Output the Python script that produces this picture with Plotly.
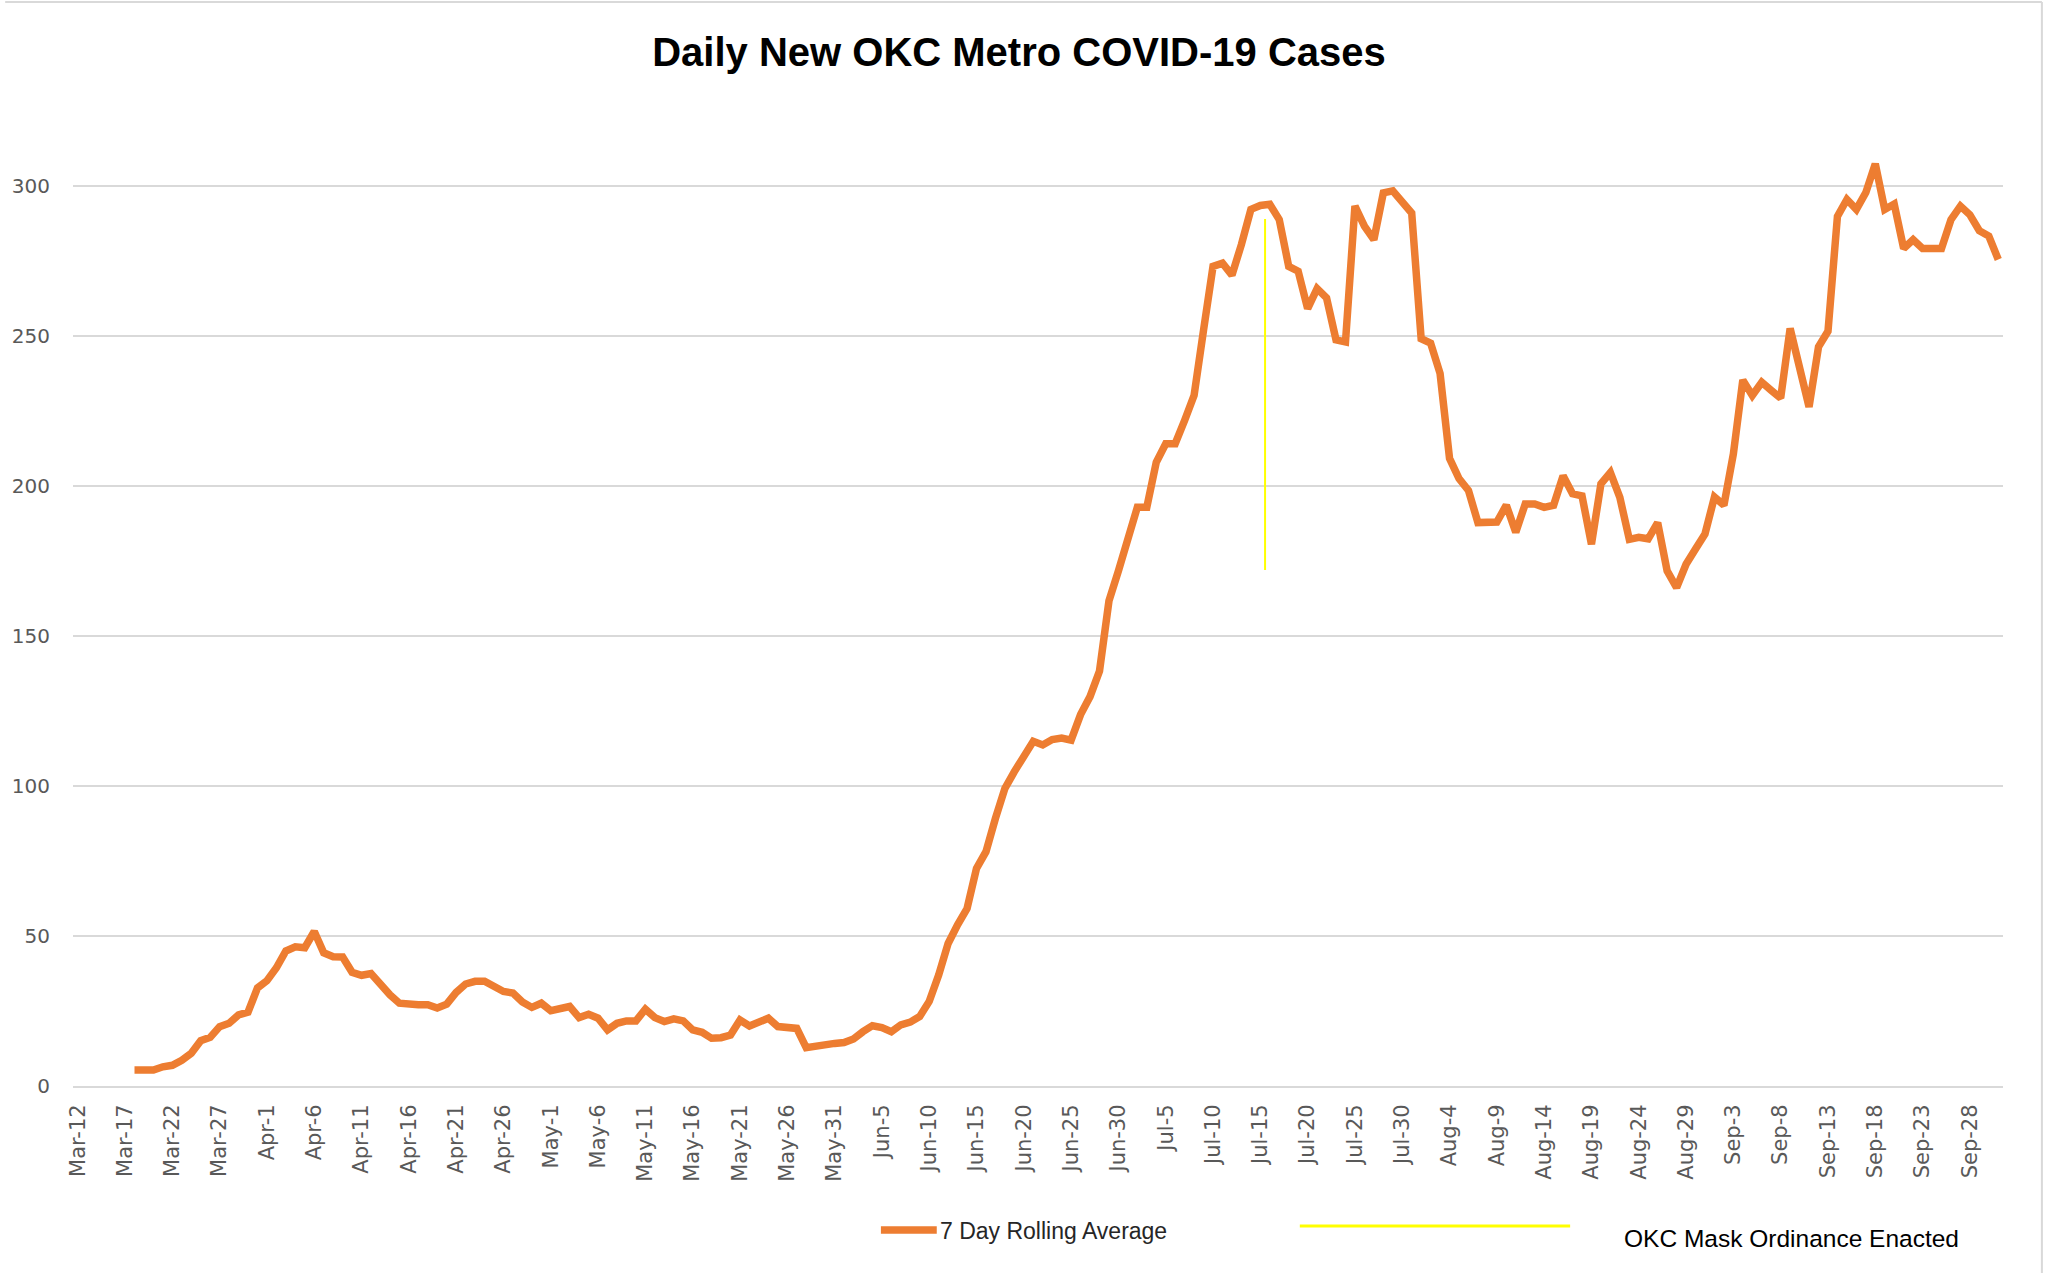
import pandas as pd
import plotly.graph_objects as go

# ---------------- data ----------------
dates = pd.date_range("2020-03-18", "2020-10-01", freq="D")

mar = [5.3, 5.3, 5.3, 6.4, 6.9, 8.6, 10.9, 15.1, 16.2, 19.8, 20.9, 23.7, 24.6, 32.7]
apr = [35.1, 39.4, 45.0, 46.4, 46.1, 51.5, 44.4, 43.1, 43.0, 37.9, 36.9, 37.5, 33.8, 30.4, 27.6,
       27.1, 27.1, 27.1, 26.0, 27.3, 31.2, 34.0, 34.9, 34.9, 33.2, 31.5, 31.0, 28.0, 26.2, 27.6]
may = [25.1, 26.0, 26.5, 22.8, 23.9, 22.6, 18.7, 20.9, 21.7, 21.7, 25.6, 22.8, 21.5, 22.4, 21.7,
       18.7, 17.9, 15.9, 16.1, 17.0, 22.0, 20.0, 21.5, 22.6, 19.8, 19.8, 19.2, 12.8, 13.4, 14.2, 14.2]
jun = [14.5, 15.7, 18.1, 20.1, 19.5, 18.1, 20.4, 21.3, 23.2, 28.2, 37.0, 47.5, 53.7, 59.1, 72.5,
       78.1, 89.2, 99.2, 104.8, 109.7, 114.9, 113.7, 115.5, 116.0, 115.3, 123.8, 129.8, 138.3, 161.7, 171.7]
jul = [181.8, 192.9, 192.9, 207.9, 214.1, 214.1, 221.9, 230.2, 252.0, 273.2, 274.3, 270.3, 280.5,
       292.2, 293.5, 293.9, 288.8, 273.2, 271.6, 259.1, 265.8, 262.7, 248.7, 248.0, 293.3, 286.6,
       282.1, 297.7, 298.4, 294.4, 291.0]
aug = [249.1, 247.6, 237.5, 209.2, 202.5, 198.5, 187.8, 188.0, 188.0, 193.6, 184.6, 194.0, 194.0,
       192.9, 193.6, 203.4, 197.4, 196.7, 180.6, 200.7, 204.5, 196.2, 182.2, 182.9, 182.4, 187.8,
       171.7, 166.1, 173.9, 179.0, 184.0]
sep = [196.3, 193.6, 210.7, 235.3, 230.2, 234.6, 231.9, 229.3, 252.5, 239.7, 226.4, 246.4, 251.6,
       289.9, 295.5, 292.2, 297.8, 307.4, 292.2, 294.0, 279.2, 282.1, 279.2, 279.2, 279.2, 288.8,
       293.3, 290.4, 285.1, 283.3]
octo = [275.5]
rolling_avg = mar + apr + may + jun + jul + aug + sep + octo

mask_x = ["2020-07-15 12:00", "2020-07-15 12:00"]
mask_y = [172, 289]

y_ticks = [0, 50, 100, 150, 200, 250, 300]

title_text = "Daily New OKC Metro COVID-19 Cases"
series_name = "7 Day Rolling Average"
mask_name = "OKC Mask Ordinance Enacted"

ORANGE = "#ED7D31"
YELLOW = "#FFFF00"

# ---------------- layout geometry ----------------
W, H = 2045, 1273
ML, MR, MT, MB = 68, 42, 96, 187
PW, PH = W - ML - MR, H - MT - MB


def px(x):
    return (x - ML) / PW


def py(y):
    return (H - MB - y) / PH


fig = go.Figure()
fig.add_trace(go.Scatter(
    x=dates, y=rolling_avg, mode="lines", name=series_name,
    line=dict(color=ORANGE, width=7.5), showlegend=False,
))
fig.add_trace(go.Scatter(
    x=mask_x, y=mask_y, mode="lines", name=mask_name,
    line=dict(color=YELLOW, width=2), showlegend=False,
))

x_tick_font = dict(family="DejaVu Sans, Verdana, sans-serif", size=21, color="#595959")
y_tick_font = dict(family="DejaVu Sans, Verdana, sans-serif", size=20, color="#595959")
legend_font = "Liberation Sans, Arial, sans-serif"

fig.update_layout(
    width=W, height=H,
    margin=dict(l=ML, r=MR, t=MT, b=MB),
    paper_bgcolor="white", plot_bgcolor="white",
    title=dict(text=title_text, x=1019 / W, xref="container", xanchor="center",
               y=1 - 52 / H, yref="container", yanchor="middle",
               font=dict(family="Liberation Sans, Arial, sans-serif", size=40,
                         color="black", weight="bold")),
    xaxis=dict(
        type="date",
        range=["2020-03-11 12:00", "2020-10-01 12:00"],
        tick0="2020-03-12", dtick=5 * 86400000,
        tickformat="%b-%-d", tickangle=-90,
        tickfont=x_tick_font,
        showgrid=False,
        showline=True, linecolor="#d9d9d9", linewidth=2,
        ticks="outside", ticklen=8, tickcolor="rgba(0,0,0,0)",
        zeroline=False,
    ),
    yaxis=dict(
        range=[0, 330],
        tickvals=y_ticks,
        tickfont=y_tick_font,
        showgrid=True, gridcolor="#d9d9d9", gridwidth=1.5,
        ticks="outside", ticklen=18, tickcolor="rgba(0,0,0,0)",
        zeroline=False, showline=False,
    ),
    showlegend=False,
    shapes=[
        # legend sample: rolling average
        dict(type="line", xref="paper", yref="paper",
             x0=px(878), x1=px(934), y0=py(1230), y1=py(1230),
             line=dict(color=ORANGE, width=7.5)),
        # legend sample: mask ordinance
        dict(type="line", xref="paper", yref="paper",
             x0=px(1298), x1=px(1569), y0=py(1226), y1=py(1226),
             line=dict(color=YELLOW, width=3)),
        # chart border (top and right edges visible)
        dict(type="line", xref="paper", yref="paper",
             x0=px(0), x1=px(2042), y0=py(2), y1=py(2),
             line=dict(color="#d9d9d9", width=2)),
        dict(type="line", xref="paper", yref="paper",
             x0=px(2042), x1=px(2042), y0=py(2), y1=py(1273),
             line=dict(color="#d9d9d9", width=2)),
    ],
    annotations=[
        dict(text=series_name, xref="paper", yref="paper",
             x=px(935), y=py(1231), xanchor="left", yanchor="middle", showarrow=False,
             font=dict(family=legend_font, size=23, color="#262626")),
        dict(text=mask_name, xref="paper", yref="paper",
             x=px(1621), y=py(1238), xanchor="left", yanchor="middle", showarrow=False,
             font=dict(family=legend_font, size=24.5, color="black")),
    ],
)

fig.write_html("out.html", config={"displayModeBar": False},
               post_script="document.body.style.margin='0px';")
